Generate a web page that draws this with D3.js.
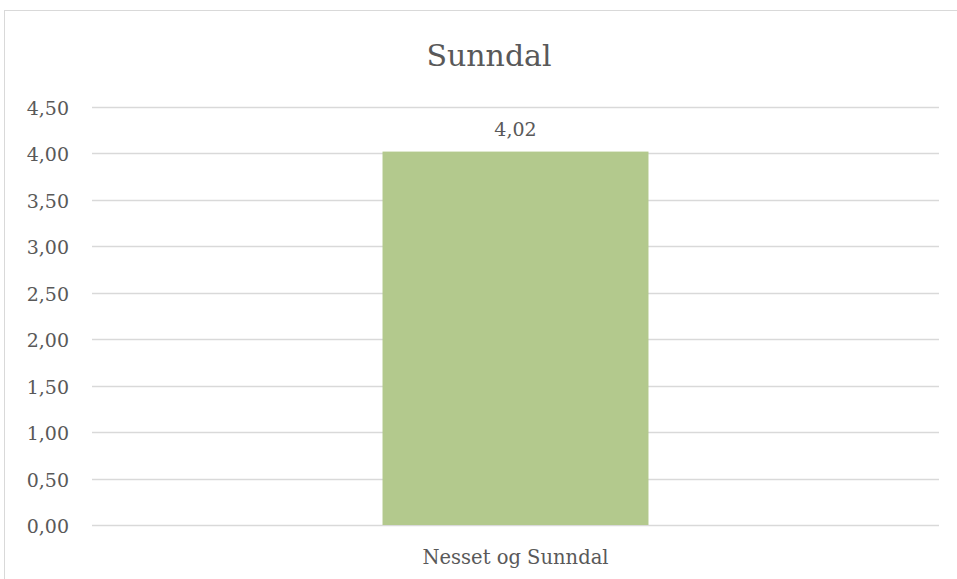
<!DOCTYPE html>
<html lang="en">
<head>
<meta charset="UTF-8">
<title>Sunndal</title>
<style>
  body { margin:0; background:#fff; }
  svg { display:block; }
  text { font-family: "DejaVu Serif", "Liberation Serif", serif; fill:#595959; }
</style>
</head>
<body>
<svg width="957" height="579"></svg>
<script src="https://cdnjs.cloudflare.com/ajax/libs/d3/7.8.5/d3.min.js"></script>
<script>
const categories = ["Nesset og Sunndal"];
const values = [4.02];
const yTicks = [0, 0.5, 1, 1.5, 2, 2.5, 3, 3.5, 4, 4.5];
const title = "Sunndal";

const svg = d3.select("svg");
const fmt = v => d3.format(".2f")(v).replace(".", ",");

// chart frame, runs off right and bottom edges
svg.append("rect")
  .attr("x", 4.5).attr("y", 10.5)
  .attr("width", 1000).attr("height", 1000)
  .attr("fill", "none").attr("stroke", "#d9d9d9");

const plotL = 92, plotR = 939, plotT = 107, plotB = 525;

const x = d3.scaleBand().domain(categories).range([plotL, plotR]).paddingInner(0.686).paddingOuter(0.343);
const y = d3.scaleLinear().domain([0, 4.5]).range([plotB, plotT]);

// gridlines
svg.append("g").selectAll("line").data(yTicks).join("line")
  .attr("x1", plotL).attr("x2", plotR)
  .attr("y1", d => Math.round(y(d)) + 0.5).attr("y2", d => Math.round(y(d)) + 0.5)
  .attr("stroke", "#d9d9d9").attr("stroke-width", 1.3);

// y labels
svg.append("g").selectAll("text").data(yTicks).join("text")
  .attr("x", 69).attr("y", d => y(d) + 8)
  .attr("text-anchor", "end")
  .style("font-size", "19px")
  .text(fmt);

// bars
svg.append("g").selectAll("rect").data(values).join("rect")
  .attr("x", (d, i) => x(categories[i]))
  .attr("width", x.bandwidth())
  .attr("y", d => y(d))
  .attr("height", d => y(0) - y(d))
  .attr("fill", "#b3c98d");

// value labels
svg.append("g").selectAll("text").data(values).join("text")
  .attr("x", (d, i) => x(categories[i]) + x.bandwidth() / 2)
  .attr("y", d => y(d) - 16)
  .attr("text-anchor", "middle")
  .style("font-size", "19px")
  .text(fmt);

// category labels
svg.append("g").selectAll("text").data(categories).join("text")
  .attr("x", d => x(d) + x.bandwidth() / 2)
  .attr("y", 564)
  .attr("text-anchor", "middle")
  .style("font-size", "19.5px")
  .text(d => d);

// title
svg.append("text")
  .attr("x", 489).attr("y", 66)
  .attr("text-anchor", "middle")
  .style("font-size", "30px")
  .text(title);
</script>
</body>
</html>
